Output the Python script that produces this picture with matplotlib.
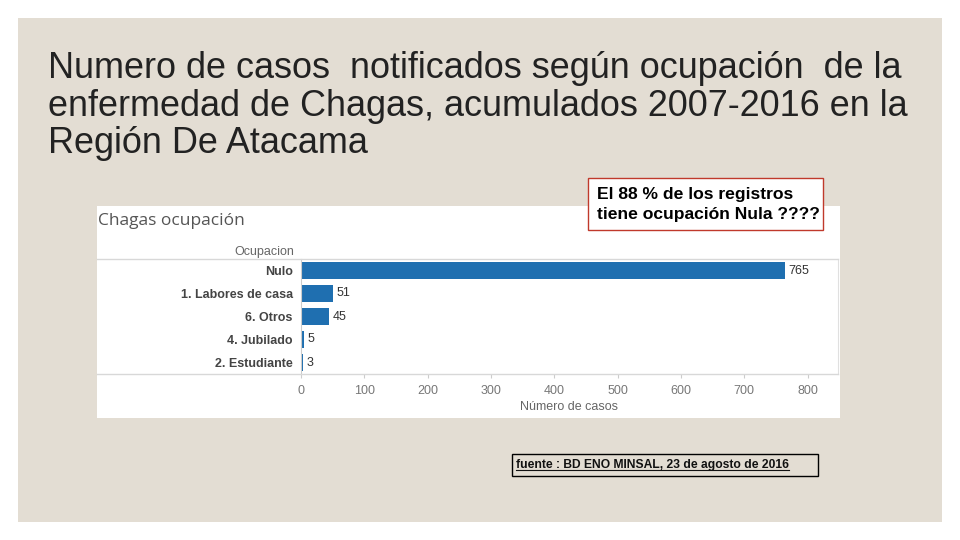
import matplotlib.pyplot as plt
from matplotlib.patches import Rectangle
from matplotlib.lines import Line2D

categorias = ["Nulo", "1. Labores de casa", "6. Otros", "4. Jubilado", "2. Estudiante"]
casos = [765, 51, 45, 5, 3]
ticks_x = [0, 100, 200, 300, 400, 500, 600, 700, 800]

titulo = ("Numero de casos  notificados según ocupación  de la\n"
          "enfermedad de Chagas, acumulados 2007-2016 en la\n"
          "Región De Atacama")
nota = "El 88 % de los registros\ntiene ocupación Nula ????"
fuente = "fuente : BD ENO MINSAL, 23 de agosto de 2016"

W, H = 960, 540
fig = plt.figure(figsize=(9.6, 5.4), dpi=100)
fig.patch.set_facecolor("white")

def fx(x):
    return x / W

def fy(y):
    return 1 - y / H

# slide background
fig.patches.append(Rectangle((fx(18), fy(522)), fx(924), 504 / H,
                             transform=fig.transFigure, facecolor="#e3ddd3",
                             edgecolor="none", zorder=0))
# white chart panel
fig.patches.append(Rectangle((fx(97), fy(418)), fx(743), 212 / H,
                             transform=fig.transFigure, facecolor="white",
                             edgecolor="none", zorder=0))

fig.text(fx(48), fy(51), titulo, fontsize=25.95, family="Liberation Sans",
         color="#222222", va="top", ha="left", linespacing=1.1)

fig.text(fx(98), fy(221), "Chagas ocupación", fontsize=12.5, color="#555555",
         va="center", ha="left", family="Open Sans")
fig.text(fx(294), fy(252), "Ocupacion", fontsize=9, color="#666666",
         va="center", ha="right", family="Liberation Sans")

ax = fig.add_axes([fx(301), fy(374), fx(537), 115 / H], zorder=2)
ax.set_facecolor("white")
y = range(len(categorias))
bars = ax.barh(y, casos, height=0.74, color="#1f6fb0")
ax.set_ylim(len(categorias) - 0.5, -0.5)
ax.set_xlim(0, 848)
ax.set_yticks(list(y))
ax.set_yticklabels(categorias, fontsize=9, fontweight="bold", color="#444444",
                   family="Liberation Sans")
ax.set_xticks(ticks_x)
ax.set_xticklabels([str(t) for t in ticks_x], fontsize=9, color="#777777",
                   family="Liberation Sans")
ax.tick_params(axis="y", length=0, pad=6)
ax.tick_params(axis="x", length=3, color="#cccccc", pad=5)
for s in ["top", "bottom"]:
    ax.spines[s].set_visible(False)
ax.spines["left"].set_color("#cccccc")
ax.spines["right"].set_color("#e0e0e0")
for b, v in zip(bars, casos):
    ax.text(v + 5, b.get_y() + b.get_height() / 2, str(v), va="center",
            ha="left", fontsize=9, color="#333333", family="Liberation Sans")
ax.set_xlabel("Número de casos", fontsize=9, color="#666666",
              family="Liberation Sans", labelpad=3)

# header / footer separator lines of the chart panel
for yy in (259, 374):
    fig.lines.append(Line2D([fx(97), fx(838)], [fy(yy), fy(yy)],
                            transform=fig.transFigure, color="#d8d8d8", lw=1,
                            zorder=3))

# red note box
fig.patches.append(Rectangle((fx(588), fy(230)), fx(235), 52 / H,
                             transform=fig.transFigure, facecolor="white",
                             edgecolor="#c0392b", lw=1, zorder=3))
fig.text(fx(597), fy(204.5), nota, fontsize=12.6, fontweight="bold",
         family="Liberation Sans", color="black", va="center", ha="left",
         linespacing=1.38, zorder=4)

# source box
fig.patches.append(Rectangle((fx(512), fy(476)), fx(306), 22 / H,
                             transform=fig.transFigure, facecolor="none",
                             edgecolor="black", lw=1, zorder=3))
t = fig.text(fx(516), fy(465), fuente, fontsize=8.7, fontweight="bold",
             family="Liberation Sans", color="#111111",
             va="center", ha="left", zorder=4)
fig.canvas.draw()
bb = t.get_window_extent().transformed(fig.transFigure.inverted())
fig.lines.append(Line2D([bb.x0, bb.x1], [bb.y0 + 0.002, bb.y0 + 0.002],
                        transform=fig.transFigure, color="#111111", lw=0.8,
                        zorder=4))

fig.savefig("out.png", dpi=100)
